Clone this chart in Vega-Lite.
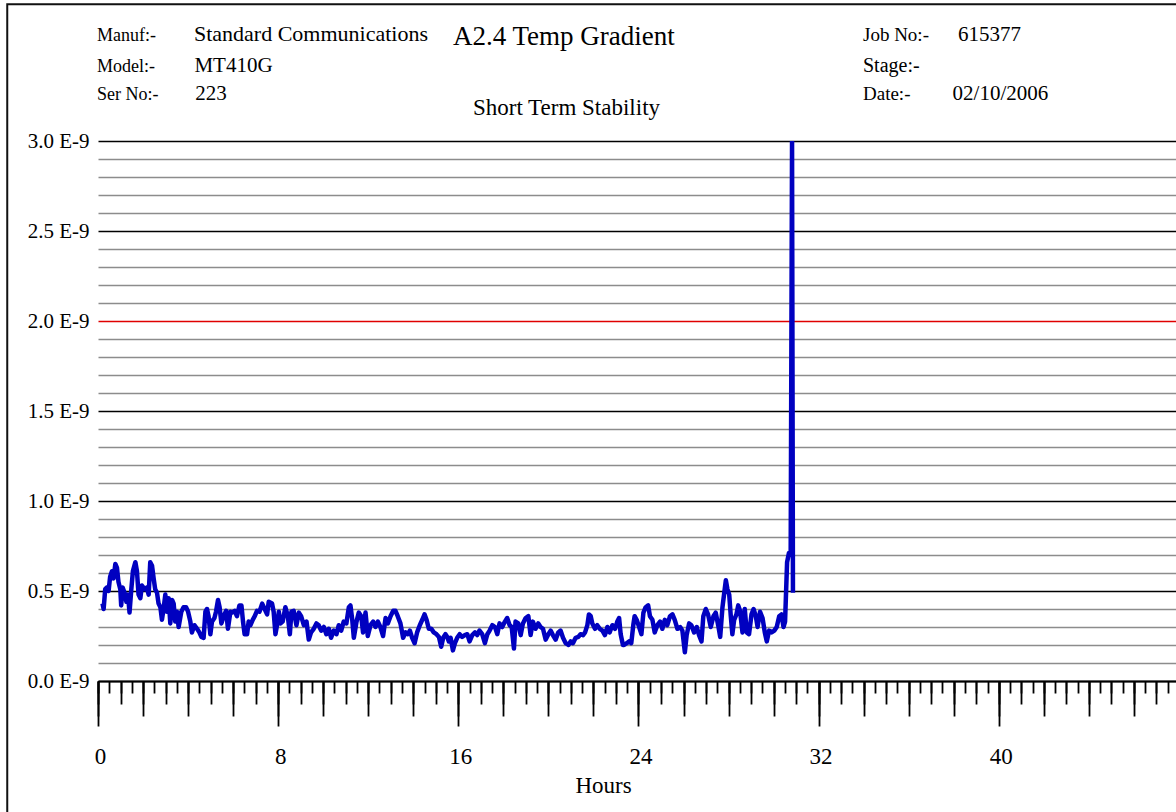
{
  "$schema": "https://vega.github.io/schema/vega-lite/v6.json",
  "width": 1078,
  "height": 540,
  "autosize": {"type": "none"},
  "padding": {"left": 98, "top": 141, "right": 0, "bottom": 131},
  "background": "white",
  "config": {
    "view": {"stroke": null},
    "axis": {"labelFont": "Liberation Serif", "titleFont": "Liberation Serif", "labelColor": "black", "titleColor": "black", "labelFlush": false},
    "text": {"font": "Liberation Serif", "color": "black", "align": "left", "baseline": "alphabetic"}
  },
  "resolve": {"axis": {"x": "independent", "y": "independent"}},
  "layer": [
    {
      "data": {"values": [{}]},
      "mark": {"type": "rect", "fill": null, "stroke": "#111111", "strokeWidth": 2, "clip": false},
      "encoding": {
        "x": {"datum": -4.03, "type": "quantitative", "scale": {"domain": [0, 47.87], "nice": false, "zero": false}, "axis": null},
        "x2": {"datum": 60},
        "y": {"datum": 3.76, "type": "quantitative", "scale": {"domain": [0, 3], "nice": false}, "axis": null},
        "y2": {"datum": -1}
      }
    },
    {
      "data": {"values": [
        {"hours": 0.2, "value": 0.43}, {"hours": 0.25, "value": 0.40}, {"hours": 0.32, "value": 0.51}, {"hours": 0.4, "value": 0.52},
        {"hours": 0.47, "value": 0.50}, {"hours": 0.54, "value": 0.58}, {"hours": 0.62, "value": 0.61}, {"hours": 0.69, "value": 0.57},
        {"hours": 0.77, "value": 0.65}, {"hours": 0.84, "value": 0.63}, {"hours": 0.91, "value": 0.55}, {"hours": 0.99, "value": 0.51},
        {"hours": 1.03, "value": 0.42}, {"hours": 1.09, "value": 0.52}, {"hours": 1.18, "value": 0.49}, {"hours": 1.26, "value": 0.44},
        {"hours": 1.33, "value": 0.48}, {"hours": 1.40, "value": 0.38}, {"hours": 1.48, "value": 0.51}, {"hours": 1.55, "value": 0.61},
        {"hours": 1.66, "value": 0.66}, {"hours": 1.73, "value": 0.61}, {"hours": 1.80, "value": 0.48}, {"hours": 1.88, "value": 0.46},
        {"hours": 1.95, "value": 0.53}, {"hours": 2.07, "value": 0.51}, {"hours": 2.17, "value": 0.52}, {"hours": 2.25, "value": 0.48},
        {"hours": 2.32, "value": 0.66}, {"hours": 2.40, "value": 0.64}, {"hours": 2.47, "value": 0.57}, {"hours": 2.54, "value": 0.51},
        {"hours": 2.62, "value": 0.49}, {"hours": 2.69, "value": 0.43}, {"hours": 2.77, "value": 0.41}, {"hours": 2.84, "value": 0.34},
        {"hours": 2.91, "value": 0.40}, {"hours": 2.99, "value": 0.48}, {"hours": 3.06, "value": 0.385}, {"hours": 3.14, "value": 0.46},
        {"hours": 3.21, "value": 0.32}, {"hours": 3.29, "value": 0.45}, {"hours": 3.36, "value": 0.43}, {"hours": 3.43, "value": 0.33},
        {"hours": 3.51, "value": 0.385}, {"hours": 3.58, "value": 0.30}, {"hours": 3.70, "value": 0.385}, {"hours": 3.80, "value": 0.41},
        {"hours": 3.91, "value": 0.41}, {"hours": 4.00, "value": 0.385}, {"hours": 4.10, "value": 0.33}, {"hours": 4.17, "value": 0.27},
        {"hours": 4.28, "value": 0.31}, {"hours": 4.40, "value": 0.29}, {"hours": 4.50, "value": 0.27}, {"hours": 4.59, "value": 0.245},
        {"hours": 4.69, "value": 0.24}, {"hours": 4.77, "value": 0.385}, {"hours": 4.84, "value": 0.40}, {"hours": 4.91, "value": 0.36},
        {"hours": 4.99, "value": 0.26}, {"hours": 5.06, "value": 0.33}, {"hours": 5.17, "value": 0.35}, {"hours": 5.24, "value": 0.385},
        {"hours": 5.33, "value": 0.45}, {"hours": 5.40, "value": 0.41}, {"hours": 5.48, "value": 0.32}, {"hours": 5.58, "value": 0.36},
        {"hours": 5.69, "value": 0.39}, {"hours": 5.77, "value": 0.29}, {"hours": 5.88, "value": 0.385}, {"hours": 5.95, "value": 0.38},
        {"hours": 6.07, "value": 0.39}, {"hours": 6.17, "value": 0.36}, {"hours": 6.28, "value": 0.42}, {"hours": 6.37, "value": 0.42},
        {"hours": 6.44, "value": 0.33}, {"hours": 6.51, "value": 0.26}, {"hours": 6.62, "value": 0.26}, {"hours": 6.69, "value": 0.33},
        {"hours": 6.77, "value": 0.31}, {"hours": 6.87, "value": 0.34}, {"hours": 6.96, "value": 0.36}, {"hours": 7.06, "value": 0.39},
        {"hours": 7.17, "value": 0.385}, {"hours": 7.29, "value": 0.43}, {"hours": 7.40, "value": 0.40}, {"hours": 7.51, "value": 0.37},
        {"hours": 7.58, "value": 0.44}, {"hours": 7.73, "value": 0.43}, {"hours": 7.80, "value": 0.385}, {"hours": 7.88, "value": 0.26},
        {"hours": 7.95, "value": 0.31}, {"hours": 8.03, "value": 0.385}, {"hours": 8.10, "value": 0.32}, {"hours": 8.20, "value": 0.33},
        {"hours": 8.32, "value": 0.41}, {"hours": 8.43, "value": 0.36}, {"hours": 8.52, "value": 0.26}, {"hours": 8.59, "value": 0.385},
        {"hours": 8.69, "value": 0.39}, {"hours": 8.81, "value": 0.31}, {"hours": 8.92, "value": 0.38}, {"hours": 9.02, "value": 0.36},
        {"hours": 9.14, "value": 0.31}, {"hours": 9.26, "value": 0.33}, {"hours": 9.36, "value": 0.23}, {"hours": 9.46, "value": 0.27},
        {"hours": 9.58, "value": 0.29}, {"hours": 9.70, "value": 0.32}, {"hours": 9.80, "value": 0.31}, {"hours": 9.91, "value": 0.28},
        {"hours": 10.03, "value": 0.30}, {"hours": 10.14, "value": 0.26}, {"hours": 10.25, "value": 0.29}, {"hours": 10.35, "value": 0.24},
        {"hours": 10.47, "value": 0.28}, {"hours": 10.59, "value": 0.26}, {"hours": 10.69, "value": 0.31}, {"hours": 10.80, "value": 0.28},
        {"hours": 10.91, "value": 0.33}, {"hours": 11.03, "value": 0.32}, {"hours": 11.14, "value": 0.41}, {"hours": 11.21, "value": 0.42},
        {"hours": 11.29, "value": 0.34}, {"hours": 11.36, "value": 0.24}, {"hours": 11.48, "value": 0.33}, {"hours": 11.58, "value": 0.38},
        {"hours": 11.69, "value": 0.36}, {"hours": 11.77, "value": 0.27}, {"hours": 11.88, "value": 0.38}, {"hours": 11.98, "value": 0.25},
        {"hours": 12.10, "value": 0.31}, {"hours": 12.22, "value": 0.33}, {"hours": 12.32, "value": 0.30}, {"hours": 12.43, "value": 0.33},
        {"hours": 12.54, "value": 0.30}, {"hours": 12.66, "value": 0.25}, {"hours": 12.77, "value": 0.35}, {"hours": 12.87, "value": 0.32},
        {"hours": 12.99, "value": 0.36}, {"hours": 13.11, "value": 0.39}, {"hours": 13.21, "value": 0.39}, {"hours": 13.31, "value": 0.36},
        {"hours": 13.43, "value": 0.32}, {"hours": 13.55, "value": 0.24}, {"hours": 13.66, "value": 0.27}, {"hours": 13.76, "value": 0.26},
        {"hours": 13.85, "value": 0.28}, {"hours": 13.95, "value": 0.24}, {"hours": 14.06, "value": 0.21}, {"hours": 14.17, "value": 0.27},
        {"hours": 14.29, "value": 0.31}, {"hours": 14.40, "value": 0.34}, {"hours": 14.50, "value": 0.37}, {"hours": 14.59, "value": 0.34},
        {"hours": 14.69, "value": 0.29}, {"hours": 14.80, "value": 0.29}, {"hours": 14.91, "value": 0.27}, {"hours": 15.03, "value": 0.26},
        {"hours": 15.14, "value": 0.245}, {"hours": 15.24, "value": 0.19}, {"hours": 15.33, "value": 0.24}, {"hours": 15.43, "value": 0.26},
        {"hours": 15.51, "value": 0.245}, {"hours": 15.58, "value": 0.22}, {"hours": 15.66, "value": 0.24}, {"hours": 15.76, "value": 0.17},
        {"hours": 15.85, "value": 0.21}, {"hours": 15.95, "value": 0.24}, {"hours": 16.06, "value": 0.26}, {"hours": 16.17, "value": 0.245},
        {"hours": 16.29, "value": 0.255}, {"hours": 16.40, "value": 0.26}, {"hours": 16.50, "value": 0.22}, {"hours": 16.62, "value": 0.255},
        {"hours": 16.74, "value": 0.27}, {"hours": 16.84, "value": 0.255}, {"hours": 16.94, "value": 0.28}, {"hours": 17.06, "value": 0.26},
        {"hours": 17.18, "value": 0.21}, {"hours": 17.29, "value": 0.26}, {"hours": 17.39, "value": 0.28}, {"hours": 17.51, "value": 0.31},
        {"hours": 17.63, "value": 0.30}, {"hours": 17.73, "value": 0.26}, {"hours": 17.83, "value": 0.32}, {"hours": 17.95, "value": 0.30},
        {"hours": 18.07, "value": 0.33}, {"hours": 18.17, "value": 0.35}, {"hours": 18.28, "value": 0.31}, {"hours": 18.37, "value": 0.30},
        {"hours": 18.47, "value": 0.18}, {"hours": 18.54, "value": 0.33}, {"hours": 18.66, "value": 0.32}, {"hours": 18.77, "value": 0.255},
        {"hours": 18.87, "value": 0.32}, {"hours": 18.99, "value": 0.35}, {"hours": 19.11, "value": 0.36}, {"hours": 19.21, "value": 0.255},
        {"hours": 19.31, "value": 0.33}, {"hours": 19.43, "value": 0.29}, {"hours": 19.55, "value": 0.32}, {"hours": 19.65, "value": 0.30},
        {"hours": 19.76, "value": 0.29}, {"hours": 19.88, "value": 0.23}, {"hours": 20.00, "value": 0.26}, {"hours": 20.10, "value": 0.28},
        {"hours": 20.20, "value": 0.255}, {"hours": 20.32, "value": 0.23}, {"hours": 20.44, "value": 0.27}, {"hours": 20.54, "value": 0.28},
        {"hours": 20.65, "value": 0.24}, {"hours": 20.77, "value": 0.21}, {"hours": 20.89, "value": 0.20}, {"hours": 20.99, "value": 0.22},
        {"hours": 21.09, "value": 0.21}, {"hours": 21.21, "value": 0.24}, {"hours": 21.33, "value": 0.245}, {"hours": 21.43, "value": 0.26},
        {"hours": 21.54, "value": 0.255}, {"hours": 21.63, "value": 0.27}, {"hours": 21.73, "value": 0.31}, {"hours": 21.80, "value": 0.37},
        {"hours": 21.88, "value": 0.36}, {"hours": 21.95, "value": 0.32}, {"hours": 22.07, "value": 0.29}, {"hours": 22.17, "value": 0.31},
        {"hours": 22.28, "value": 0.29}, {"hours": 22.40, "value": 0.28}, {"hours": 22.51, "value": 0.255}, {"hours": 22.62, "value": 0.30},
        {"hours": 22.72, "value": 0.27}, {"hours": 22.84, "value": 0.31}, {"hours": 22.96, "value": 0.29}, {"hours": 23.06, "value": 0.33},
        {"hours": 23.14, "value": 0.35}, {"hours": 23.21, "value": 0.26}, {"hours": 23.31, "value": 0.20}, {"hours": 23.36, "value": 0.20},
        {"hours": 23.48, "value": 0.21}, {"hours": 23.58, "value": 0.22}, {"hours": 23.68, "value": 0.21}, {"hours": 23.77, "value": 0.31},
        {"hours": 23.83, "value": 0.36}, {"hours": 23.92, "value": 0.34}, {"hours": 24.03, "value": 0.30}, {"hours": 24.13, "value": 0.26},
        {"hours": 24.22, "value": 0.38}, {"hours": 24.32, "value": 0.41}, {"hours": 24.43, "value": 0.42}, {"hours": 24.51, "value": 0.36},
        {"hours": 24.62, "value": 0.34}, {"hours": 24.72, "value": 0.27}, {"hours": 24.84, "value": 0.31}, {"hours": 24.96, "value": 0.33},
        {"hours": 25.06, "value": 0.29}, {"hours": 25.17, "value": 0.34}, {"hours": 25.28, "value": 0.31}, {"hours": 25.40, "value": 0.36},
        {"hours": 25.51, "value": 0.37}, {"hours": 25.61, "value": 0.34}, {"hours": 25.73, "value": 0.29}, {"hours": 25.85, "value": 0.30},
        {"hours": 25.95, "value": 0.28}, {"hours": 26.06, "value": 0.16}, {"hours": 26.14, "value": 0.255}, {"hours": 26.25, "value": 0.32},
        {"hours": 26.35, "value": 0.31}, {"hours": 26.47, "value": 0.27}, {"hours": 26.59, "value": 0.30}, {"hours": 26.69, "value": 0.255},
        {"hours": 26.80, "value": 0.22}, {"hours": 26.88, "value": 0.36}, {"hours": 26.99, "value": 0.40}, {"hours": 27.09, "value": 0.37},
        {"hours": 27.21, "value": 0.30}, {"hours": 27.33, "value": 0.36}, {"hours": 27.43, "value": 0.38}, {"hours": 27.54, "value": 0.31},
        {"hours": 27.63, "value": 0.245}, {"hours": 27.73, "value": 0.41}, {"hours": 27.80, "value": 0.48}, {"hours": 27.88, "value": 0.56},
        {"hours": 27.95, "value": 0.51}, {"hours": 28.03, "value": 0.48}, {"hours": 28.10, "value": 0.36}, {"hours": 28.17, "value": 0.26},
        {"hours": 28.25, "value": 0.34}, {"hours": 28.35, "value": 0.37}, {"hours": 28.43, "value": 0.42}, {"hours": 28.51, "value": 0.39},
        {"hours": 28.62, "value": 0.27}, {"hours": 28.72, "value": 0.40}, {"hours": 28.81, "value": 0.27}, {"hours": 28.91, "value": 0.26},
        {"hours": 29.02, "value": 0.37}, {"hours": 29.11, "value": 0.40}, {"hours": 29.21, "value": 0.36}, {"hours": 29.29, "value": 0.30},
        {"hours": 29.40, "value": 0.385}, {"hours": 29.51, "value": 0.35}, {"hours": 29.61, "value": 0.27}, {"hours": 29.70, "value": 0.22},
        {"hours": 29.80, "value": 0.28}, {"hours": 29.91, "value": 0.27}, {"hours": 30.03, "value": 0.28}, {"hours": 30.14, "value": 0.30},
        {"hours": 30.25, "value": 0.36}, {"hours": 30.35, "value": 0.37}, {"hours": 30.44, "value": 0.30}, {"hours": 30.51, "value": 0.33},
        {"hours": 30.60, "value": 0.66}, {"hours": 30.68, "value": 0.71}, {"hours": 30.76, "value": 0.72}, {"hours": 30.82, "value": 3.0},
        {"hours": 30.86, "value": 0.49}
      ]},
      "mark": {"type": "line", "color": "#0000c0", "strokeWidth": 4.5, "strokeJoin": "round", "clip": true},
      "encoding": {
        "x": {
          "field": "hours", "type": "quantitative",
          "scale": {"domain": [0, 47.87], "nice": false, "zero": false},
          "axis": {
            "orient": "bottom",
            "values": [0,0.5,1,1.5,2,2.5,3,3.5,4,4.5,5,5.5,6,6.5,7,7.5,8,8.5,9,9.5,10,10.5,11,11.5,12,12.5,13,13.5,14,14.5,15,15.5,16,16.5,17,17.5,18,18.5,19,19.5,20,20.5,21,21.5,22,22.5,23,23.5,24,24.5,25,25.5,26,26.5,27,27.5,28,28.5,29,29.5,30,30.5,31,31.5,32,32.5,33,33.5,34,34.5,35,35.5,36,36.5,37,37.5,38,38.5,39,39.5,40,40.5,41,41.5,42,42.5,43,43.5,44,44.5,45,45.5,46,46.5,47,47.5],
            "tickSize": 12, "tickWidth": 1.8, "tickColor": "black",
            "domain": true, "domainColor": "black", "domainWidth": 2,
            "labels": false, "grid": false, "title": null
          }
        },
        "y": {
          "field": "value", "type": "quantitative",
          "scale": {"domain": [0, 3], "nice": false},
          "axis": {
            "orient": "left",
            "values": [0,0.1,0.2,0.3,0.4,0.5,0.6,0.7,0.8,0.9,1.0,1.1,1.2,1.3,1.4,1.5,1.6,1.7,1.8,1.9,2.0,2.1,2.2,2.3,2.4,2.5,2.6,2.7,2.8,2.9,3.0],
            "domain": false, "ticks": false,
            "grid": true, "gridWidth": 1.5,
            "gridColor": {"condition": [
              {"test": "abs(datum.value - 2) < 0.01", "value": "#e00000"},
              {"test": "abs(datum.value*2 - round(datum.value*2)) < 0.01", "value": "black"}
            ], "value": "#8c8c8c"},
            "labelExpr": "abs(datum.value*2 - round(datum.value*2)) < 0.01 ? format(datum.value, '.1f') + ' E-9' : ''",
            "labelFontSize": 21, "labelPadding": 9, "labelAlign": "right", "labelBaseline": "middle",
            "title": null
          }
        }
      }
    },
    {
      "data": {"values": [{}]},
      "mark": {"type": "text", "text": "Manuf:-", "fontSize": 18},
      "encoding": {
        "x": {"datum": -0.04, "type": "quantitative", "scale": {"domain": [0, 47.87], "nice": false, "zero": false},
          "axis": {"orient": "bottom", "values": [0,1,2,3,4,5,6,7,8,9,10,11,12,13,14,15,16,17,18,19,20,21,22,23,24,25,26,27,28,29,30,31,32,33,34,35,36,37,38,39,40,41,42,43,44,45,46,47],
            "tickSize": 23, "tickWidth": 1.8, "tickColor": "black", "domain": false, "labels": false, "grid": false, "title": null}},
        "y": {"datum": 3.556, "type": "quantitative", "scale": {"domain": [0, 3], "nice": false}, "axis": null}
      }
    },
    {
      "data": {"values": [{}]},
      "mark": {"type": "text", "text": "Model:-", "fontSize": 18},
      "encoding": {
        "x": {"datum": -0.04, "type": "quantitative", "scale": {"domain": [0, 47.87], "nice": false, "zero": false},
          "axis": {"orient": "bottom", "values": [0,2,4,6,8,10,12,14,16,18,20,22,24,26,28,30,32,34,36,38,40,42,44,46],
            "tickSize": 35, "tickWidth": 1.8, "tickColor": "black", "domain": false, "labels": false, "grid": false, "title": null}},
        "y": {"datum": 3.385, "type": "quantitative", "scale": {"domain": [0, 3], "nice": false}, "axis": null}
      }
    },
    {
      "data": {"values": [{}]},
      "mark": {"type": "text", "text": "Ser No:-", "fontSize": 18},
      "encoding": {
        "x": {"datum": -0.04, "type": "quantitative", "scale": {"domain": [0, 47.87], "nice": false, "zero": false},
          "axis": {"orient": "bottom", "values": [0,8,16,24,32,40],
            "tickSize": 45, "tickWidth": 1.8, "tickColor": "black", "domain": false, "grid": false,
            "labels": true, "labelFontSize": 23, "labelPadding": 37, "labelBaseline": "alphabetic", "labelOffset": 2, "labelFlush": false,
            "title": "Hours", "titleFontSize": 23, "titleFontWeight": "normal", "titleX": 505, "titleY": 111, "titleBaseline": "alphabetic", "titleAlign": "center"}},
        "y": {"datum": 3.228, "type": "quantitative", "scale": {"domain": [0, 3], "nice": false}, "axis": null}
      }
    },
    {
      "data": {"values": [{}]},
      "mark": {"type": "text", "text": "Standard Communications", "fontSize": 22},
      "encoding": {
        "x": {"datum": 4.26, "type": "quantitative", "scale": {"domain": [0, 47.87], "nice": false, "zero": false}, "axis": null},
        "y": {"datum": 3.556, "type": "quantitative", "scale": {"domain": [0, 3], "nice": false}, "axis": null}
      }
    },
    {
      "data": {"values": [{}]},
      "mark": {"type": "text", "text": "MT410G", "fontSize": 21},
      "encoding": {
        "x": {"datum": 4.28, "type": "quantitative", "scale": {"domain": [0, 47.87], "nice": false, "zero": false}, "axis": null},
        "y": {"datum": 3.385, "type": "quantitative", "scale": {"domain": [0, 3], "nice": false}, "axis": null}
      }
    },
    {
      "data": {"values": [{}]},
      "mark": {"type": "text", "text": "223", "fontSize": 21},
      "encoding": {
        "x": {"datum": 4.32, "type": "quantitative", "scale": {"domain": [0, 47.87], "nice": false, "zero": false}, "axis": null},
        "y": {"datum": 3.228, "type": "quantitative", "scale": {"domain": [0, 3], "nice": false}, "axis": null}
      }
    },
    {
      "data": {"values": [{}]},
      "mark": {"type": "text", "text": "A2.4 Temp Gradient", "fontSize": 27},
      "encoding": {
        "x": {"datum": 15.76, "type": "quantitative", "scale": {"domain": [0, 47.87], "nice": false, "zero": false}, "axis": null},
        "y": {"datum": 3.533, "type": "quantitative", "scale": {"domain": [0, 3], "nice": false}, "axis": null}
      }
    },
    {
      "data": {"values": [{}]},
      "mark": {"type": "text", "text": "Short Term Stability", "fontSize": 23},
      "encoding": {
        "x": {"datum": 16.65, "type": "quantitative", "scale": {"domain": [0, 47.87], "nice": false, "zero": false}, "axis": null},
        "y": {"datum": 3.144, "type": "quantitative", "scale": {"domain": [0, 3], "nice": false}, "axis": null}
      }
    },
    {
      "data": {"values": [{}]},
      "mark": {"type": "text", "text": "Job No:-", "fontSize": 19},
      "encoding": {
        "x": {"datum": 33.97, "type": "quantitative", "scale": {"domain": [0, 47.87], "nice": false, "zero": false}, "axis": null},
        "y": {"datum": 3.556, "type": "quantitative", "scale": {"domain": [0, 3], "nice": false}, "axis": null}
      }
    },
    {
      "data": {"values": [{}]},
      "mark": {"type": "text", "text": "615377", "fontSize": 21},
      "encoding": {
        "x": {"datum": 38.19, "type": "quantitative", "scale": {"domain": [0, 47.87], "nice": false, "zero": false}, "axis": null},
        "y": {"datum": 3.556, "type": "quantitative", "scale": {"domain": [0, 3], "nice": false}, "axis": null}
      }
    },
    {
      "data": {"values": [{}]},
      "mark": {"type": "text", "text": "Stage:-", "fontSize": 20},
      "encoding": {
        "x": {"datum": 33.97, "type": "quantitative", "scale": {"domain": [0, 47.87], "nice": false, "zero": false}, "axis": null},
        "y": {"datum": 3.385, "type": "quantitative", "scale": {"domain": [0, 3], "nice": false}, "axis": null}
      }
    },
    {
      "data": {"values": [{}]},
      "mark": {"type": "text", "text": "Date:-", "fontSize": 19},
      "encoding": {
        "x": {"datum": 33.97, "type": "quantitative", "scale": {"domain": [0, 47.87], "nice": false, "zero": false}, "axis": null},
        "y": {"datum": 3.228, "type": "quantitative", "scale": {"domain": [0, 3], "nice": false}, "axis": null}
      }
    },
    {
      "data": {"values": [{}]},
      "mark": {"type": "text", "text": "02/10/2006", "fontSize": 21},
      "encoding": {
        "x": {"datum": 37.95, "type": "quantitative", "scale": {"domain": [0, 47.87], "nice": false, "zero": false}, "axis": null},
        "y": {"datum": 3.228, "type": "quantitative", "scale": {"domain": [0, 3], "nice": false}, "axis": null}
      }
    }
  ]
}
